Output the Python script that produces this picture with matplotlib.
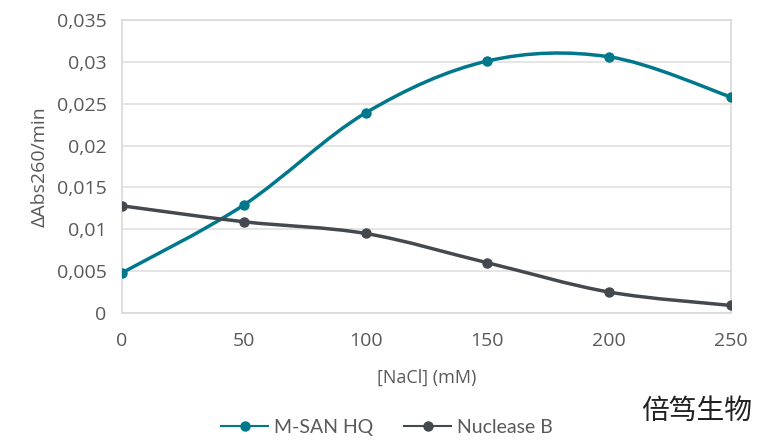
import numpy as np
import matplotlib.pyplot as plt
from matplotlib.path import Path
from matplotlib.patches import PathPatch
from matplotlib.ticker import FuncFormatter
from matplotlib.lines import Line2D

nacl = [0, 50, 100, 150, 200, 250]
msan_hq = [0.0048, 0.0129, 0.0239, 0.0301, 0.0306, 0.0258]
nuclease_b = [0.0128, 0.0109, 0.0095, 0.0060, 0.0025, 0.0009]

teal = '#00788c'
dark = '#43494e'
grey_txt = '#595959'


def smooth_path(x, y):
    # excel-like smoothed line: catmull-rom segments as cubic beziers
    p = np.column_stack([x, y]).astype(float)
    pts = [p[0]]
    codes = [Path.MOVETO]
    n = len(p)
    for i in range(n - 1):
        p0 = p[i - 1] if i > 0 else p[i]
        p3 = p[i + 2] if i + 2 < n else p[i + 1]
        c1 = p[i] + (p[i + 1] - p0) / 6
        c2 = p[i + 1] - (p3 - p[i]) / 6
        pts += [c1, c2, p[i + 1]]
        codes += [Path.CURVE4] * 3
    return Path(pts, codes)


fig = plt.figure(figsize=(7.68, 4.44), dpi=100)
ax = fig.add_axes([122/768, 1-313/444, (731-122)/768, (313-20)/444])

for ys, c in [(msan_hq, teal), (nuclease_b, dark)]:
    ax.add_patch(PathPatch(smooth_path(nacl, ys), facecolor='none', edgecolor=c, lw=2.5,
                           capstyle='round', zorder=3))
    ax.plot(nacl, ys, 'o', color=c, ms=6.5, zorder=4)

ax.set_xlim(0, 250)
ax.set_ylim(0, 0.035)
ax.set_xticks(nacl)
ax.set_yticks(np.arange(0, 0.0351, 0.005))
ax.yaxis.set_major_formatter(FuncFormatter(lambda v, p: ('%g' % round(v, 4)).replace('.', ',')))
ax.grid(axis='y', color='#e0e0e0', lw=1.2)
ax.set_axisbelow(True)
for s in ax.spines.values():
    s.set_color('#d9d9d9')
    s.set_linewidth(1.2)
ax.tick_params(length=0, pad=11, labelsize=14, labelcolor=grey_txt)
ax.tick_params(axis='x', pad=14)
for t in ax.get_xticklabels() + ax.get_yticklabels():
    t.set_fontfamily('Open Sans')

ax.set_xlabel('[NaCl] (mM)', fontsize=13, color=grey_txt, family='Open Sans', labelpad=13)
ax.set_ylabel('ΔAbs260/min', fontsize=14, color=grey_txt, family='Open Sans', labelpad=6)

handles = [Line2D([], [], color=teal, lw=1.5, marker='o', ms=6.5),
           Line2D([], [], color=dark, lw=1.5, marker='o', ms=6.5)]
fig.legend(handles, ['M-SAN HQ', 'Nuclease B'], loc='center', bbox_to_anchor=(387/768, 1-427/444),
           ncol=2, frameon=False, handlelength=2.4, columnspacing=1.6, handletextpad=0.3,
           prop={'family': 'Lato', 'size': 14}, labelcolor=grey_txt)

fig.text(752/768, 1-411/444, '倍笃生物', ha='right', va='center', fontsize=20,
         family=['Noto Sans CJK SC', 'DejaVu Sans'], color='#222222', fontweight='light')

fig.savefig('out.png', dpi=100)
